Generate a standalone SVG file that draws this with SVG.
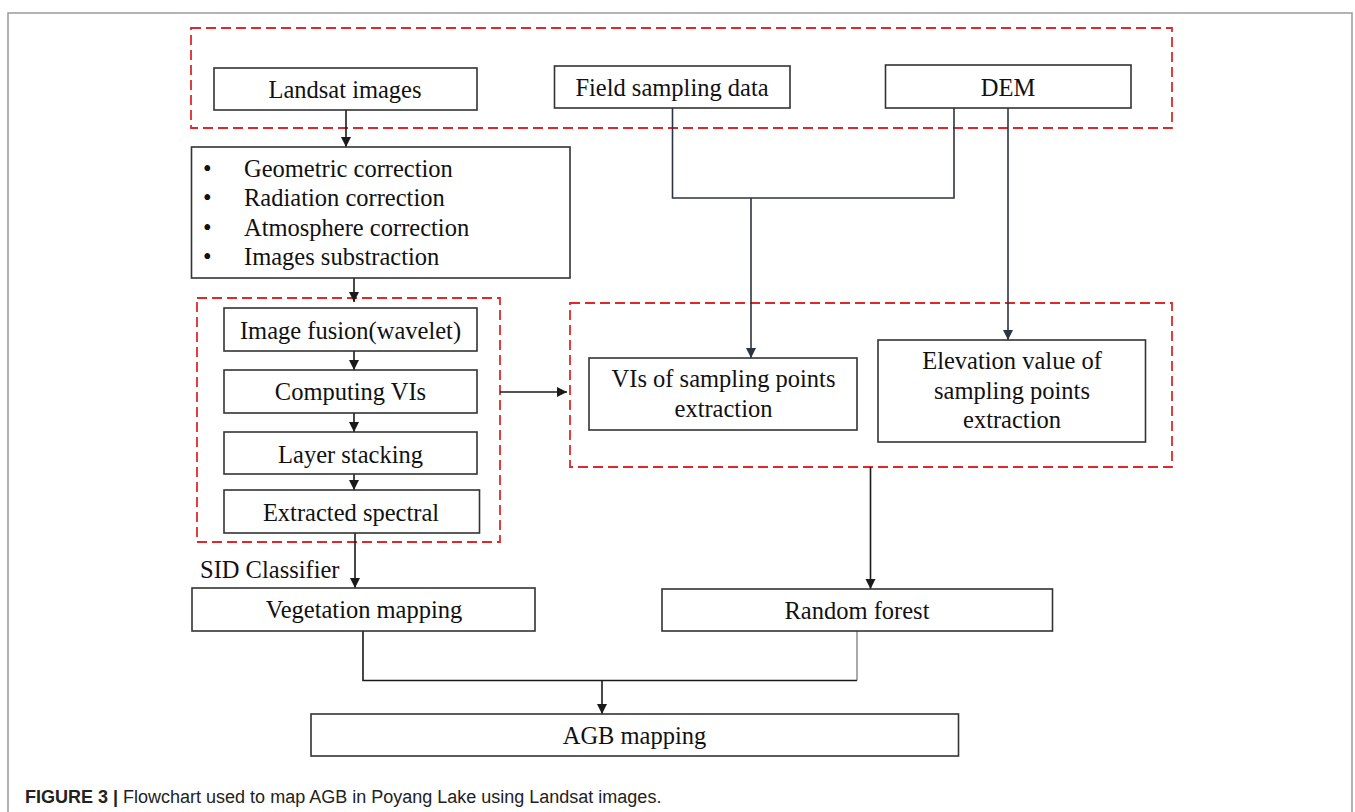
<svg xmlns="http://www.w3.org/2000/svg" width="1355" height="812" viewBox="0 0 1355 812">
<defs>
<marker id="ah" markerUnits="userSpaceOnUse" markerWidth="10" markerHeight="11" refX="10" refY="5" orient="auto">
<path d="M0,0 L10,5 L0,10 Z" fill="#1a1a1a"/>
</marker>
<marker id="ahs" markerUnits="userSpaceOnUse" markerWidth="10" markerHeight="11" refX="10" refY="5" orient="auto">
<path d="M0,0 L10,5 L0,10 Z" fill="#2b3542"/>
</marker>
</defs>
<style>
.box{fill:#fff;stroke:#333;stroke-width:1.6}
.grp{fill:none;stroke:#e0282c;stroke-width:1.8;stroke-dasharray:10 5}
.t{font-family:"Liberation Serif","Times New Roman",serif;font-size:24.5px;fill:#111;text-anchor:middle}
.tl{font-family:"Liberation Serif","Times New Roman",serif;font-size:24.5px;fill:#111}
.c{fill:none;stroke:#1a1a1a;stroke-width:1.6}
.cs{fill:none;stroke:#2b3542;stroke-width:1.6}
.cap{font-family:"Liberation Sans",Arial,sans-serif;font-size:18px;fill:#222}
</style>
<rect width="1355" height="812" fill="#fff"/>
<path d="M8,812 V13 H1352 V812" fill="none" stroke="#9a9a9a" stroke-width="1.5"/>

<g id="groups">
<rect id="grp-inputs" class="grp" x="191" y="28" width="981" height="100"/>
<rect id="grp-processing" class="grp" x="197" y="298" width="303" height="244"/>
<rect id="grp-extraction" class="grp" x="570" y="303" width="602" height="164"/>
</g>

<g id="connectors">
<line class="c" x1="346" y1="110" x2="346" y2="147" marker-end="url(#ah)"/>
<line class="c" x1="354" y1="278" x2="354" y2="302" marker-end="url(#ah)"/>
<line class="c" x1="354" y1="351" x2="354" y2="370" marker-end="url(#ah)"/>
<line class="c" x1="354" y1="413" x2="354" y2="432" marker-end="url(#ah)"/>
<line class="c" x1="354" y1="474" x2="354" y2="490" marker-end="url(#ah)"/>
<line class="c" x1="355" y1="533" x2="355" y2="588" marker-end="url(#ah)"/>
<line class="c" x1="500" y1="392" x2="567" y2="392" marker-end="url(#ah)"/>
<path class="cs" d="M672.5,108 V198 H954 V108"/>
<line class="cs" x1="751" y1="198" x2="751" y2="358" marker-end="url(#ahs)"/>
<line class="cs" x1="1008" y1="108" x2="1008" y2="340" marker-end="url(#ahs)"/>
<line class="c" x1="870.5" y1="467" x2="870.5" y2="589" marker-end="url(#ah)"/>
<path class="c" d="M363,631 V680.5 H857"/>
<line x1="857" y1="631" x2="857" y2="680.5" stroke="#555" stroke-width="1"/>
<line class="c" x1="602" y1="680.5" x2="602" y2="714" marker-end="url(#ah)"/>
</g>

<g id="n-landsat">
<rect class="box" x="214" y="68" width="263" height="42"/>
<text class="t" x="345" y="98">Landsat images</text>
</g>
<g id="n-field">
<rect class="box" x="554.5" y="66" width="235.5" height="42"/>
<text class="t" x="672" y="96">Field sampling data</text>
</g>
<g id="n-dem">
<rect class="box" x="885.5" y="65" width="245.5" height="43"/>
<text class="t" x="1008" y="96">DEM</text>
</g>
<g id="n-preprocess">
<rect class="box" x="191.5" y="147" width="378.5" height="131"/>
<text class="tl" x="203" y="177">•</text>
<text class="tl" x="244" y="177">Geometric correction</text>
<text class="tl" x="203" y="206">•</text>
<text class="tl" x="244" y="206">Radiation correction</text>
<text class="tl" x="203" y="236">•</text>
<text class="tl" x="244" y="236">Atmosphere correction</text>
<text class="tl" x="203" y="265">•</text>
<text class="tl" x="244" y="265">Images substraction</text>
</g>
<g id="n-fusion">
<rect class="box" x="224" y="308" width="253" height="43"/>
<text class="t" x="350.5" y="339">Image fusion(wavelet)</text>
</g>
<g id="n-computing">
<rect class="box" x="224" y="370" width="253" height="43"/>
<text class="t" x="350.5" y="400">Computing VIs</text>
</g>
<g id="n-layer">
<rect class="box" x="224" y="432" width="253" height="42"/>
<text class="t" x="350.5" y="463">Layer stacking</text>
</g>
<g id="n-extracted">
<rect class="box" x="224" y="490" width="255.5" height="43"/>
<text class="t" x="351" y="520.5">Extracted spectral</text>
</g>
<g id="l-sid">
<text class="tl" x="200" y="578">SID Classifier</text>
</g>
<g id="n-vis">
<rect class="box" x="589" y="358" width="268" height="72"/>
<text class="t" x="723.5" y="387">VIs of sampling points</text>
<text class="t" x="723.5" y="417">extraction</text>
</g>
<g id="n-elev">
<rect class="box" x="878" y="340" width="267.5" height="102"/>
<text class="t" x="1012" y="369">Elevation value of</text>
<text class="t" x="1012" y="399">sampling points</text>
<text class="t" x="1012" y="428">extraction</text>
</g>
<g id="n-veg">
<rect class="box" x="192" y="588" width="343" height="43"/>
<text class="t" x="364" y="618">Vegetation mapping</text>
</g>
<g id="n-rf">
<rect class="box" x="662" y="589" width="390.5" height="42"/>
<text class="t" x="857" y="619">Random forest</text>
</g>
<g id="n-agb">
<rect class="box" x="311" y="714" width="647.5" height="42"/>
<text class="t" x="634.5" y="744">AGB mapping</text>
</g>

<g id="caption">
<text class="cap" x="25" y="803"><tspan font-weight="bold">FIGURE 3 |</tspan> Flowchart used to map AGB in Poyang Lake using Landsat images.</text>
</g>
</svg>
